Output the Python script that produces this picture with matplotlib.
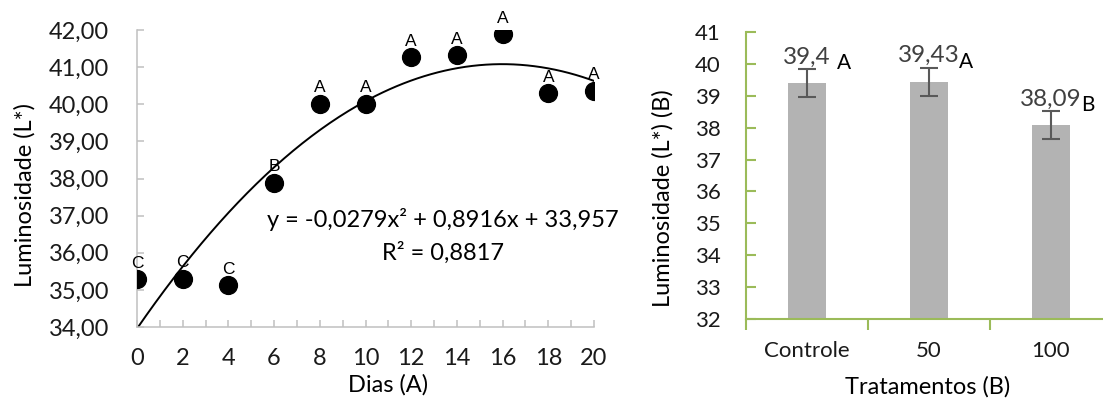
import numpy as np
import matplotlib
matplotlib.use('Agg')
import matplotlib.pyplot as plt
from matplotlib.ticker import MultipleLocator, FuncFormatter

# Dados - grafico de dispersao (Dias)
dias = [0, 2, 4, 6, 8, 10, 12, 14, 16, 18, 20]
luminosidade = [35.29, 35.30, 35.12, 37.89, 40.01, 40.01, 41.27, 41.32, 41.89, 40.30, 40.36]
letras_dias = ['C', 'C', 'C', 'B', 'A', 'A', 'A', 'A', 'A', 'A', 'A']
coef_tendencia = [-0.0279, 0.8916, 33.957]
equacao = 'y = -0,0279x² + 0,8916x + 33,957'
r2_texto = 'R² = 0,8817'

# Dados - grafico de barras (Tratamentos)
tratamentos = ['Controle', '50', '100']
medias = [39.40, 39.43, 38.09]
erros = [0.44, 0.45, 0.43]
letras_trat = ['A', 'A', 'B']

plt.rcParams['font.family'] = ['Lato', 'DejaVu Sans']
W, H = 1103, 398
fig = plt.figure(figsize=(W / 100, H / 100), dpi=100)

# ---------- grafico da esquerda ----------
ax1 = fig.add_axes([137 / W, 1 - 327 / H, (594 - 137) / W, (327 - 30) / H])
ax1.scatter(dias, luminosidade, s=165, color='black', zorder=3)
xs = np.linspace(0, 20, 200)
ax1.plot(xs, np.polyval(coef_tendencia, xs), color='black', lw=1.4, zorder=2)
for x, y, l in zip(dias, luminosidade, letras_dias):
    ax1.annotate(l, (x, y), xytext=(0, 16), textcoords='offset pixels',
                 ha='center', va='center', fontsize=12.5, family='Liberation Sans')

ax1.set_xlim(0, 20)
ax1.set_ylim(34, 42)
ax1.xaxis.set_major_locator(MultipleLocator(2))
ax1.xaxis.set_minor_locator(MultipleLocator(1))
ax1.yaxis.set_major_locator(MultipleLocator(1))
ax1.yaxis.set_major_formatter(FuncFormatter(lambda v, p: f'{v:.2f}'.replace('.', ',')))
for s in ['top', 'right']:
    ax1.spines[s].set_visible(False)
for s in ['left', 'bottom']:
    ax1.spines[s].set_color('#c0c0c0')
    ax1.spines[s].set_linewidth(1.1)
ax1.tick_params(axis='both', which='both', direction='in', color='#c0c0c0',
                length=5, width=1.1, labelsize=17, labelcolor='#1a1a1a')
ax1.tick_params(axis='y', pad=20)
ax1.tick_params(axis='x', pad=15)
fig.text(443 / W, 1 - 220 / H, equacao, fontsize=17, ha='center', va='center')
fig.text(443 / W, 1 - 253 / H, r2_texto, fontsize=17, ha='center', va='center')
fig.text(388 / W, 1 - 385 / H, 'Dias (A)', fontsize=17, ha='center', va='center')
fig.text(25 / W, 1 - 195 / H, 'Luminosidade (L*)', fontsize=17, ha='center',
         va='center', rotation=90)

# ---------- grafico da direita ----------
verde = '#9bbb59'
ax2 = fig.add_axes([746 / W, 1 - 319 / H, (1112 - 746) / W, (319 - 32) / H])
pos = np.arange(len(tratamentos))
ax2.bar(pos, [m - 32 for m in medias], bottom=32, width=0.31, color='#b3b3b3',
        zorder=2)
ax2.errorbar(pos, medias, yerr=erros, fmt='none', ecolor='#595959', elinewidth=1.5,
             capsize=6.5, capthick=1.5, zorder=3)
for p, m, e, l in zip(pos, medias, erros, letras_trat):
    ax2.annotate(f'{m:g}'.replace('.', ','), (p, m + e), xytext=(0, 12),
                 textcoords='offset pixels', ha='center', va='center',
                 fontsize=17.5, color='#404040')
    ax2.annotate(l, (p, m + e), xytext=(37, 6), textcoords='offset pixels',
                 ha='center', va='center', fontsize=15, color='black')

ax2.set_xlim(-0.5, 2.5)
ax2.set_ylim(32, 41)
ax2.set_xticks(pos)
ax2.set_xticklabels(tratamentos)
ax2.set_xticks([-0.5, 0.5, 1.5], minor=True)
ax2.yaxis.set_major_locator(MultipleLocator(1))
for s in ['top', 'right']:
    ax2.spines[s].set_visible(False)
for s in ['left', 'bottom']:
    ax2.spines[s].set_color(verde)
    ax2.spines[s].set_linewidth(1.5)
ax2.tick_params(axis='x', which='major', length=0, labelsize=16, pad=16,
                labelcolor='#1a1a1a')
ax2.tick_params(axis='x', which='minor', direction='out', length=8, width=1.5,
                color=verde)
ax2.tick_params(axis='y', direction='in', length=7, width=1.5, color=verde,
                labelsize=16, pad=18, labelcolor='#1a1a1a')
fig.text(928 / W, 1 - 387 / H, 'Tratamentos (B)', fontsize=17, ha='center',
         va='center')
fig.text(663 / W, 1 - 198 / H, 'Luminosidade (L*) (B)', fontsize=17, ha='center',
         va='center', rotation=90)

fig.savefig('out.png', dpi=100)
